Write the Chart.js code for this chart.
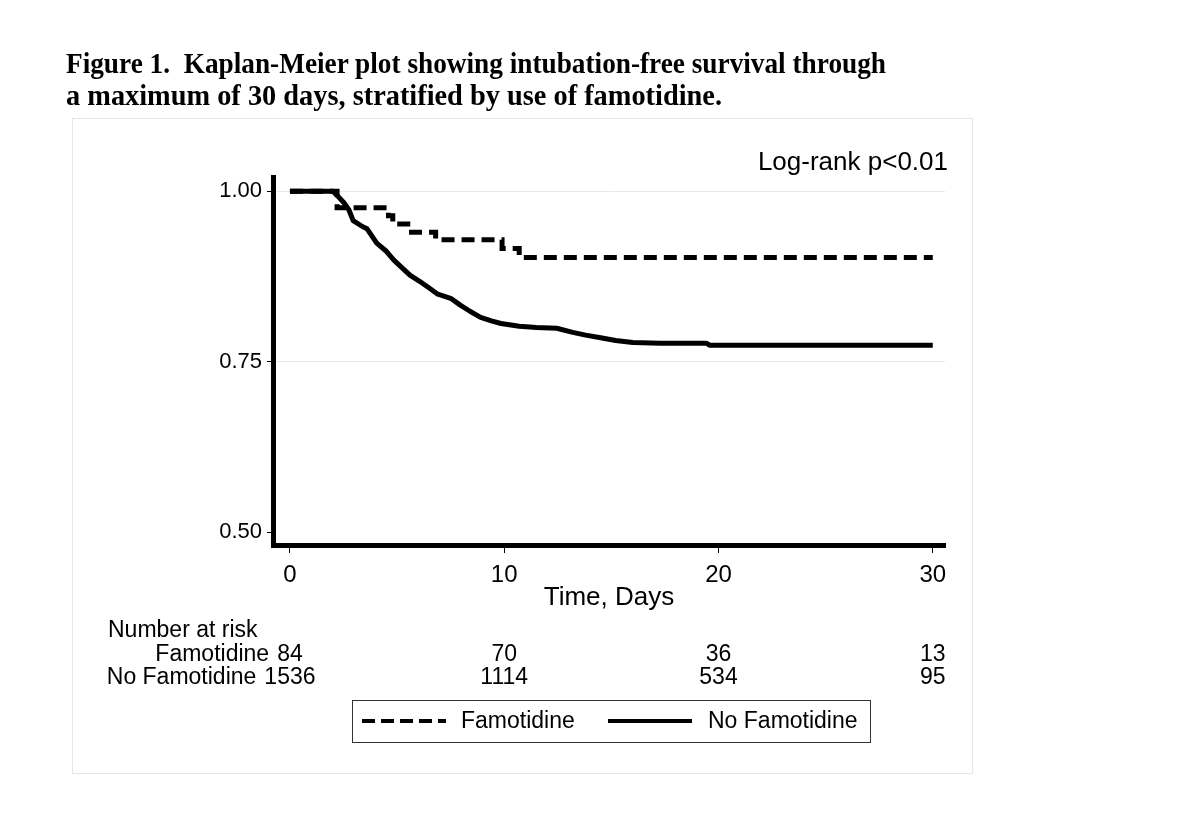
<!DOCTYPE html>
<html>
<head>
<meta charset="utf-8">
<script src="https://cdn.jsdelivr.net/npm/chart.js@4.4.1/dist/chart.umd.min.js"></script>
<style>
  html, body { margin: 0; padding: 0; background: #fff; }
  #wrap { position: relative; width: 1200px; height: 830px; overflow: hidden; }
  #c { position: absolute; left: 0; top: 0; }
  .tl { position: absolute; left: 66px; display: inline-block; font-family: "Liberation Serif", "Times New Roman", serif;
        font-weight: bold; font-size: 29px; line-height: 32px; color: #000; white-space: pre;
        transform-origin: 0 0; }
</style>
</head>
<body>
<div id="wrap">
  <canvas id="c" width="1200" height="830"></canvas>
  <span class="tl" id="t1" style="top:47px">Figure 1.  Kaplan-Meier plot showing intubation-free survival through</span>
  <span class="tl" id="t2" style="top:79px">a maximum of 30 days, stratified by use of famotidine.</span>
</div>
<script>
// ---- data ----
const seriesNames = ["Famotidine", "No Famotidine"];
const famTimes  = [0, 2.2, 4.6, 4.8, 5.5, 6.8, 9.9, 10.7, 30];
const famSurv   = [1.0, 0.976, 0.964, 0.952, 0.940, 0.929, 0.916, 0.903, 0.903];
const noFamTimes = [0, 2.0, 2.2, 2.5, 2.75, 2.95, 3.4, 3.6, 4.05, 4.5, 4.85, 5.6, 6.05, 6.5, 6.9, 7.5, 7.95, 8.4, 8.9, 9.4, 9.85, 10.7, 11.5, 12.45, 13.2, 13.8, 14.5, 15.2, 16.0, 17.3, 19.45, 19.6, 30];
const noFamSurv  = [1.0, 1.0, 0.994, 0.984, 0.973, 0.957, 0.948, 0.945, 0.924, 0.912, 0.899, 0.877, 0.868, 0.858, 0.849, 0.843, 0.833, 0.824, 0.815, 0.810, 0.806, 0.802, 0.800, 0.799, 0.793, 0.789, 0.785, 0.781, 0.778, 0.777, 0.777, 0.774, 0.774];
const xTicks = [0, 10, 20, 30];
const yTicks = [0.50, 0.75, 1.00];
const riskTimes = [0, 10, 20, 30];
const riskFam   = [84, 70, 36, 13];
const riskNoFam = [1536, 1114, 534, 95];
const riskTitle = "Number at risk";
const pText = "Log-rank p<0.01";
const xTitle = "Time, Days";

const FONT = '"Liberation Sans", Arial, Helvetica, sans-serif';

function pts(xs, ys) { return xs.map((x, i) => ({ x: x, y: ys[i] })); }

const extras = {
  id: 'extras',
  beforeDraw(chart) {
    const ctx = chart.ctx;
    ctx.save();
    ctx.strokeStyle = '#e2e8e8';
    ctx.lineWidth = 1;
    ctx.strokeRect(72.5, 118.5, 900, 655);
    ctx.restore();
  },
  afterDraw(chart) {
    const ctx = chart.ctx;
    const xs = chart.scales.x;
    ctx.save();
    ctx.fillStyle = '#000';
    // log-rank text
    ctx.font = '26px ' + FONT;
    ctx.textAlign = 'right';
    ctx.textBaseline = 'middle';
    ctx.fillText(pText, 948, 163);
    // number at risk table
    ctx.font = '23px ' + FONT;
    ctx.textAlign = 'left';
    ctx.fillText(riskTitle, 108, 631);
    const rows = [[seriesNames[0], riskFam, 655], [seriesNames[1], riskNoFam, 678]];
    rows.forEach(([name, vals, y]) => {
      ctx.textAlign = 'center';
      vals.forEach((v, i) => {
        ctx.fillText(String(v), xs.getPixelForValue(riskTimes[i]), y);
      });
      const w0 = ctx.measureText(String(vals[0])).width;
      const left0 = xs.getPixelForValue(riskTimes[0]) - w0 / 2;
      ctx.textAlign = 'right';
      ctx.fillText(name, left0 - 8, y);
    });
    // legend
    ctx.strokeStyle = '#333';
    ctx.lineWidth = 1;
    ctx.strokeRect(352.5, 700.5, 518, 42);
    const ly = 721;
    ctx.lineWidth = 4;
    ctx.strokeStyle = '#000';
    ctx.lineCap = 'butt';
    ctx.setLineDash([13, 6]);
    ctx.beginPath(); ctx.moveTo(362, ly); ctx.lineTo(446, ly); ctx.stroke();
    ctx.setLineDash([]);
    ctx.beginPath(); ctx.moveTo(608, ly); ctx.lineTo(692, ly); ctx.stroke();
    ctx.textAlign = 'left';
    ctx.textBaseline = 'middle';
    ctx.fillText(seriesNames[0], 461, ly + 1);
    ctx.fillText(seriesNames[1], 708, ly + 1);
    ctx.restore();
  }
};

new Chart(document.getElementById('c'), {
  type: 'line',
  data: {
    datasets: [
      { label: seriesNames[0], data: pts(famTimes, famSurv), stepped: 'before',
        borderColor: '#000', borderWidth: 5, borderDash: [13, 7], borderCapStyle: 'butt',
        pointRadius: 0, fill: false },
      { label: seriesNames[1], data: pts(noFamTimes, noFamSurv), stepped: false,
        borderColor: '#000', borderWidth: 5, borderJoinStyle: 'round',
        pointRadius: 0, fill: false, tension: 0 }
    ]
  },
  options: {
    responsive: false,
    animation: false,
    devicePixelRatio: 1,
    layout: { padding: { left: 0, right: 255, top: 177, bottom: 215 } },
    plugins: { legend: { display: false }, tooltip: { enabled: false }, title: { display: false } },
    scales: {
      x: {
        type: 'linear', min: -0.79, max: 30.57,
        afterBuildTicks: (s) => { s.ticks = xTicks.map(v => ({ value: v })); },
        afterFit: (s) => { s.height = 70; },
        grid: { drawOnChartArea: false, drawTicks: true, tickLength: 8, tickColor: '#000', tickWidth: 1 },
        border: { display: true, color: '#000', width: 5 },
        ticks: { color: '#000', font: { family: FONT, size: 24 }, padding: 8, maxRotation: 0,
                 callback: (v) => String(v) },
        title: { display: true, text: xTitle, color: '#000', font: { family: FONT, size: 26 },
                 padding: { top: 0, bottom: 2 } }
      },
      y: {
        type: 'linear', min: 0.481, max: 1.021,
        afterBuildTicks: (s) => { s.ticks = yTicks.map(v => ({ value: v })); },
        afterFit: (s) => { s.width = 273; },
        grid: { drawOnChartArea: true, drawTicks: true, tickLength: 6, tickWidth: 1, tickColor: '#000',
                color: (c) => (c.tick && Math.abs(c.tick.value - 0.5) < 1e-9) ? 'rgba(0,0,0,0)' : '#e3eaea',
                lineWidth: 1 },
        border: { display: true, color: '#000', width: 5 },
        ticks: { color: '#000', font: { family: FONT, size: 22 }, padding: 5,
                 callback: (v) => Number(v).toFixed(2) }
      }
    }
  },
  plugins: [extras]
});

// fit title lines to the widths measured in the reference
function fitTitle() {
  const t1 = document.getElementById('t1'), t2 = document.getElementById('t2');
  t1.style.transform = 'none'; t2.style.transform = 'none';
  const w1 = t1.getBoundingClientRect().width;
  const w2 = t2.getBoundingClientRect().width;
  t1.style.transform = 'scaleX(' + (820 / w1) + ')';
  t2.style.transform = 'scaleX(' + (656 / w2) + ')';
}
fitTitle();
if (document.fonts && document.fonts.ready) { document.fonts.ready.then(fitTitle); }
</script>
</body>
</html>
